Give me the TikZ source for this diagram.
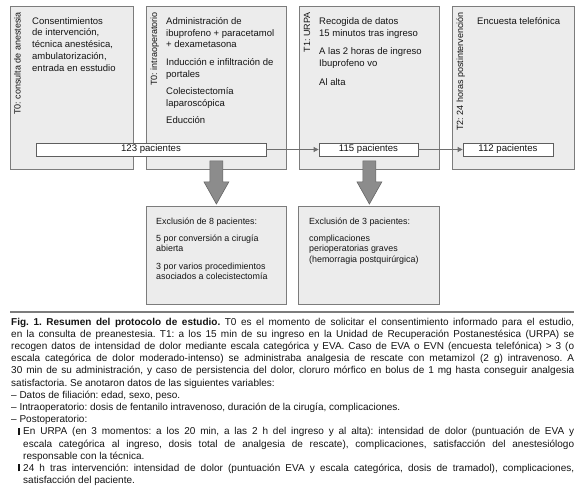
\documentclass[tikz,border=0pt]{standalone}
\usepackage{fontspec}
\setmainfont{Liberation Sans}
\usetikzlibrary{arrows.meta,calc}
\frenchspacing
\definecolor{boxfill}{HTML}{ECECEC}
\definecolor{boxline}{HTML}{7C7C7C}
\definecolor{cntline}{HTML}{5E5E5E}
\definecolor{connline}{HTML}{6E6E6E}
\definecolor{arrowfill}{HTML}{8C8C8C}
\definecolor{arrowline}{HTML}{666666}
\definecolor{txtcol}{HTML}{141414}
\newcommand{\toprule}{\rule{0pt}{8pt}}
\tikzset{
  stage/.style={draw=boxline, fill=boxfill, line width=0.8pt, inner sep=0pt, anchor=north west, minimum height=163pt},
  exbox/.style={draw=boxline, fill=boxfill, line width=0.8pt, inner sep=0pt, anchor=north west, minimum height=98pt},
  cnt/.style={draw=cntline, fill=white, line width=0.8pt, inner sep=0pt, minimum height=13pt, text=txtcol, font=\fontsize{9.6}{11}\selectfont},
  conn/.style={draw=connline, line width=0.8pt, -{Triangle[length=5pt,width=5pt]}},
  bigarrow/.style={fill=arrowfill, draw=arrowline, line width=0.6pt},
  txt/.style={anchor=north west, inner sep=0pt, align=left, text=txtcol, font=\fontsize{9.5}{11.8}\selectfont},
  extxt/.style={anchor=north west, inner sep=0pt, align=left, text=txtcol, font=\fontsize{8.9}{10.6}\selectfont},
  vlab/.style={rotate=90, anchor=mid east, inner sep=0pt, text=txtcol, font=\fontsize{9}{10}\selectfont},
  captxt/.style={anchor=base west, inner sep=0pt, text=txtcol, font=\fontsize{10}{12}\selectfont},
  sepline/.style={draw=boxline, line width=1.4pt}
}
\begin{document}
\begin{tikzpicture}[x=1pt,y=-1pt]
\useasboundingbox (0,0) rectangle (580,487);
% stage boxes
\node[stage, minimum width=123pt] (b1) at (10,6) {};
\node[stage, minimum width=140pt] (b2) at (146,6) {};
\node[stage, minimum width=140pt] (b3) at (299,6) {};
\node[stage, minimum width=122pt] (b4) at (452,6) {};
% vertical labels
\node[vlab] (l1) at (18,12) {T0: consulta de anestesia};
\node[vlab] (l2) at (154.5,12) {T0: intraoperatorio};
\node[vlab] (l3) at (307.5,12) {T1: URPA};
\node[vlab] (l4) at (460.5,12) {T2: 24 horas postintervención};
% box texts (first baseline at y=24)
\node[txt] (t1) at (32,16) {\toprule Consentimientos\\de intervención,\\técnica anestésica,\\ambulatorización,\\entrada en esstudio};
\node[txt] (t2) at (166,16) {\toprule Administración de\\ibuprofeno + paracetamol\\+ dexametasona\\[6pt]Inducción e infiltración de\\portales\\[5pt]Colecistectomía\\laparoscópica\\[6pt]Educción};
\node[txt] (t3) at (319,16) {\toprule Recogida de datos\\15 minutos tras ingreso\\[7pt]A las 2 horas de ingreso\\Ibuprofeno vo\\[7pt]Al alta};
\node[txt] (t4) at (477,16) {\toprule Encuesta telefónica};
% counts
\node[cnt, minimum width=230pt] (p123) at (151,149.5) {123 pacientes};
\node[cnt, minimum width=99pt] (p115) at (368.5,149.5) {115 pacientes};
\node[cnt, minimum width=90pt] (p112) at (508,149.5) {112 pacientes};
\draw[conn] (p123.east) -- (p115.west);
\draw[conn] (p115.east) -- (p112.west);
% exclusion boxes
\node[exbox, minimum width=140pt] (ex1) at (146,206) {};
\node[exbox, minimum width=141pt] (ex2) at (298,206) {};
\node[extxt] (e1) at (156,216) {\toprule Exclusión de 8 pacientes:\\[6.5pt]5 por conversión a cirugía\\abierta\\[6.5pt]3 por varios procedimientos\\asociados a colecistectomía};
\node[extxt] (e2) at (309,216) {\toprule Exclusión de 3 pacientes:\\[6.5pt]complicaciones\\perioperatorias graves\\(hemorragia postquirúrgica)};
% big arrows
\path (b2.south) ++(0,-9) coordinate (a1s);
\draw[bigarrow] ($(a1s)+(-6.5,0)$) -- ($(a1s)+(6.5,0)$) -- ($(a1s)+(6.5,21)$) -- ($(a1s)+(12.5,21)$) -- ($(ex1.north)+(0,-2)$) -- ($(a1s)+(-12.5,21)$) -- ($(a1s)+(-6.5,21)$) -- cycle;
\path (b3.south) ++(0,-9) coordinate (a2s);
\draw[bigarrow] ($(a2s)+(-6.5,0)$) -- ($(a2s)+(6.5,0)$) -- ($(a2s)+(6.5,21)$) -- ($(a2s)+(12.5,21)$) -- ($(ex2.north)+(0.5,-2)$) -- ($(a2s)+(-12.5,21)$) -- ($(a2s)+(-6.5,21)$) -- cycle;
% separator
\coordinate (s1) at (10,312);
\coordinate (s2) at (574,312);
\draw[sepline] (s1) -- (s2);
% caption
\node[captxt] (c0) at (11,325) {\makebox[563pt][s]{\textbf{Fig. 1. Resumen del protocolo de estudio.} T0 es el momento de solicitar el consentimiento informado para el estudio,}};
\node[captxt] (c1) at (11,337.2) {\makebox[563pt][s]{en la consulta de preanestesia. T1: a los 15 min de su ingreso en la Unidad de Recuperación Postanestésica (URPA) se}};
\node[captxt] (c2) at (11,349.4) {\makebox[563pt][s]{recogen datos de intensidad de dolor mediante escala categórica y EVA. Caso de EVA o EVN (encuesta telefónica) > 3 (o}};
\node[captxt] (c3) at (11,361.6) {\makebox[563pt][s]{escala categórica de dolor moderado-intenso) se administraba analgesia de rescate con metamizol (2 g) intravenoso. A}};
\node[captxt] (c4) at (11,373.8) {\makebox[563pt][s]{30 min de su administración, y caso de persistencia del dolor, cloruro mórfico en bolus de 1 mg hasta conseguir analgesia}};
\node[captxt] (c5) at (11,386) {satisfactoria. Se anotaron datos de las siguientes variables:};
\node[captxt] (c6) at (11,398.2) {– Datos de filiación: edad, sexo, peso.};
\node[captxt] (c7) at (11,410.4) {– Intraoperatorio: dosis de fentanilo intravenoso, duración de la cirugía, complicaciones.};
\node[captxt] (c8) at (11,422.6) {– Postoperatorio:};
\node[captxt] (c9) at (18,434.8) {\rule{1.6pt}{7.2pt}\hspace{3.4pt}\makebox[551pt][s]{En URPA (en 3 momentos: a los 20 min, a las 2 h del ingreso y al alta): intensidad de dolor (puntuación de EVA y}};
\node[captxt] (c10) at (23,447) {\makebox[551pt][s]{escala categórica al ingreso, dosis total de analgesia de rescate), complicaciones, satisfacción del anestesiólogo}};
\node[captxt] (c11) at (23,459.2) {responsable con la técnica.};
\node[captxt] (c12) at (18,471.4) {\rule{1.6pt}{7.2pt}\hspace{3.4pt}\makebox[551pt][s]{24 h tras intervención: intensidad de dolor (puntuación EVA y escala categórica, dosis de tramadol), complicaciones,}};
\node[captxt] (c13) at (23,483.6) {satisfacción del paciente.};
\end{tikzpicture}
\end{document}
